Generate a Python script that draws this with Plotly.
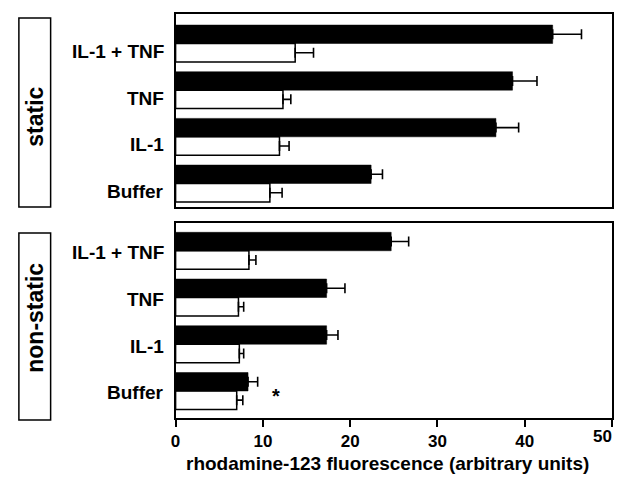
import plotly.graph_objects as go

categories = ["Buffer", "IL-1", "TNF", "IL-1 + TNF"]
pos = [0, 1, 2, 3]

static_black = [22.4, 36.7, 38.6, 43.2]
static_black_err = [1.3, 2.6, 2.8, 3.3]
static_white = [10.8, 11.9, 12.3, 13.7]
static_white_err = [1.4, 1.1, 0.9, 2.1]

nonstatic_black = [8.3, 17.3, 17.3, 24.7]
nonstatic_black_err = [1.1, 1.3, 2.1, 2.0]
nonstatic_white = [7.0, 7.3, 7.2, 8.4]
nonstatic_white_err = [0.7, 0.5, 0.6, 0.8]

x_ticks = [0, 10, 20, 30, 40, 50]
x_tick_labels = ["0", "10", "20", "30", "40", "50"]
x_title = "rhodamine-123 fluorescence (arbitrary units)"
panel_names = ["static", "non-static"]

FONT = "Liberation Sans"
W, H = 617, 482

fig = go.Figure()

def err(arr):
    return dict(type="data", symmetric=False, array=arr, arrayminus=[0] * len(arr),
                color="black", thickness=1.6, width=5)

def add_panel(white, white_err, black, black_err, xa, ya):
    fig.add_trace(go.Bar(y=pos, x=white, orientation="h", xaxis=xa, yaxis=ya,
                         marker=dict(color="white", line=dict(color="black", width=1.5)),
                         error_x=err(white_err), showlegend=False))
    fig.add_trace(go.Bar(y=pos, x=black, orientation="h", xaxis=xa, yaxis=ya,
                         marker=dict(color="black", line=dict(color="black", width=0.5)),
                         error_x=err(black_err), showlegend=False))

add_panel(static_white, static_white_err, static_black, static_black_err, "x", "y")
add_panel(nonstatic_white, nonstatic_white_err, nonstatic_black, nonstatic_black_err, "x2", "y2")

xdom = [172 / W, 612 / W]
common_x = dict(range=[0, 50], domain=xdom, showline=True, mirror=True, linecolor="black",
                linewidth=2, showgrid=False, zeroline=False, fixedrange=True)
common_y = dict(showline=True, mirror=True, linecolor="black", linewidth=2, showgrid=False,
                zeroline=False, showticklabels=False, ticks="")

tick_font = dict(family=FONT, size=17, weight=700, color="black")

fig.update_layout(
    width=W, height=H, margin=dict(l=0, r=0, t=0, b=0),
    paper_bgcolor="white", plot_bgcolor="white",
    barmode="group", bargap=0.21, bargroupgap=0,
    font=dict(family=FONT, color="black"),
    xaxis=dict(**common_x, anchor="y", showticklabels=False, ticks=""),
    yaxis=dict(**common_y, domain=[1 - 207 / H, 1 - 14 / H], range=[-0.504, 3.632], anchor="x"),
    xaxis2=dict(**common_x, anchor="y2", tickvals=x_ticks, ticktext=x_tick_labels[:-1] + [""],
                ticks="outside", ticklen=7, tickwidth=2, tickcolor="black", tickfont=tick_font),
    yaxis2=dict(**common_y, domain=[1 - 418 / H, 1 - 223 / H], range=[-0.579, 3.594], anchor="x2"),
)

ann = []
for yref, shift in (("y", -8), ("y2", -2)):
    for p, c in zip(pos, categories):
        ann.append(dict(text=c, xref="paper", x=162 / W, xanchor="right", yref=yref, y=p,
                        yanchor="middle", yshift=shift, showarrow=False,
                        font=dict(family=FONT, size=19, weight=700, color="black")))

# last tick label would overflow the page edge; place it flush right like the original
ann.append(dict(text=x_tick_labels[-1], xref="x2", x=x_ticks[-1], xanchor="right", xshift=2,
                yref="paper", y=1 - 436 / H, yanchor="middle", showarrow=False, font=tick_font))

ann.append(dict(text="*", xref="x2", x=11.5, yref="y2", y=0, yanchor="middle", yshift=-5,
                showarrow=False, font=dict(family=FONT, size=20, weight=700, color="black")))

ann.append(dict(text=x_title, xref="paper", x=386 / W, xanchor="center", yref="paper",
                y=1 - 463 / H, yanchor="middle", showarrow=False,
                font=dict(family=FONT, size=19, weight=700, color="black")))

boxes = [(18, 207), (233, 420)]
text_centers = [117, 318]
shapes = []
for name, (t, b), c in zip(panel_names, boxes, text_centers):
    shapes.append(dict(type="rect", xref="paper", yref="paper", x0=14 / W, x1=46 / W,
                       y0=1 - b / H, y1=1 - t / H, line=dict(color="black", width=1.5)))
    ann.append(dict(text=name, textangle=-90, xref="paper", x=30 / W, xanchor="center",
                    yref="paper", y=1 - c / H, yanchor="middle", showarrow=False,
                    font=dict(family=FONT, size=23, weight=700, color="black")))

fig.update_layout(annotations=ann, shapes=shapes)
fig.write_html("out.html")
